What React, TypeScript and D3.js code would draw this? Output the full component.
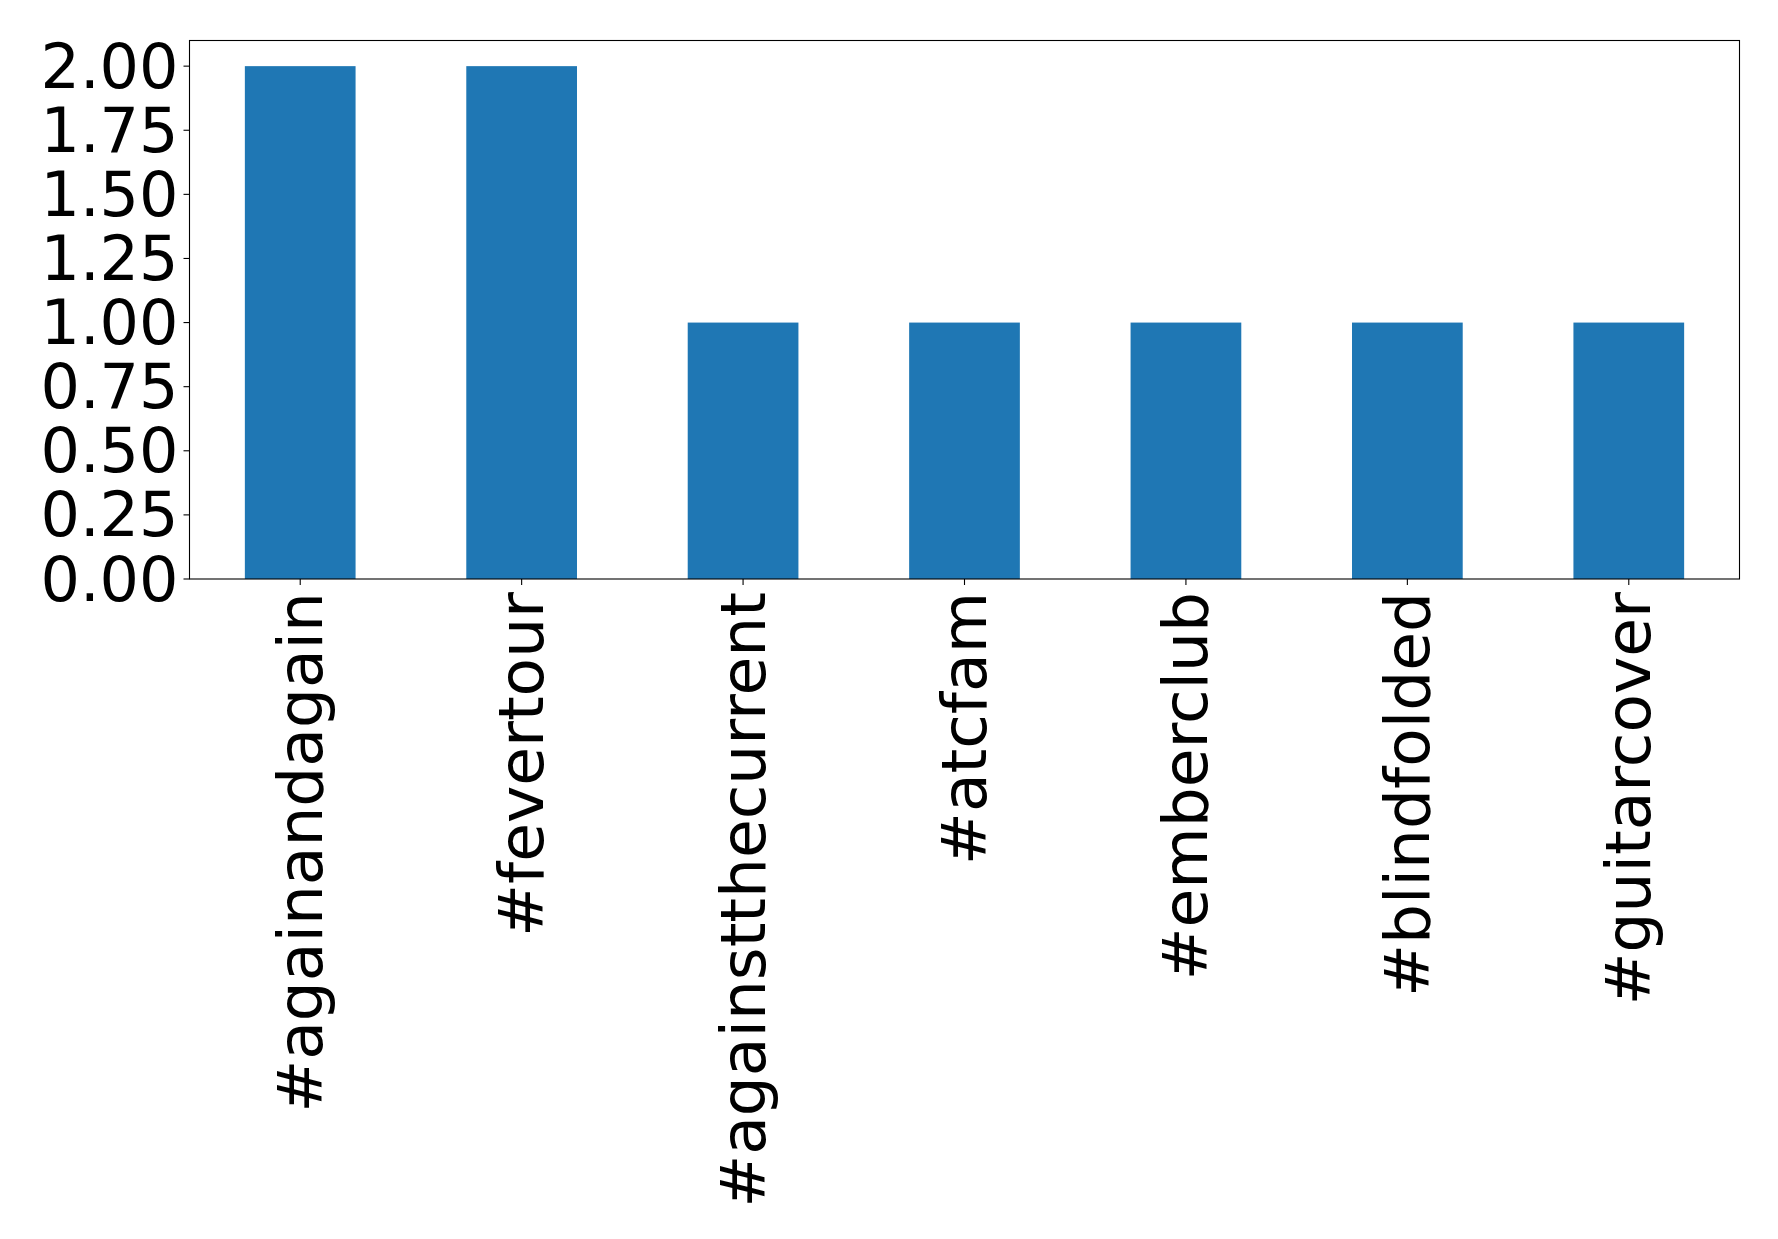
import React from "react";
import * as d3 from "d3";

const categories: string[] = [
  "#againandagain",
  "#fevertour",
  "#againstthecurrent",
  "#atcfam",
  "#emberclub",
  "#blindfolded",
  "#guitarcover",
];
const values: number[] = [2, 2, 1, 1, 1, 1, 1];
const yTicks: number[] = [0, 0.25, 0.5, 0.75, 1.0, 1.25, 1.5, 1.75, 2.0];

const W = 1778;
const H = 1239;
const left = 189.5;
const right = 1739.5;
const top = 40.5;
const bottom = 579;
const FONT = "'DejaVu Sans', sans-serif";
const FS_Y = 62;
const FS_X = 63;

export default function App() {
  const x = d3
    .scaleBand<string>()
    .domain(categories)
    .range([left, right])
    .paddingInner(0.5)
    .paddingOuter(0.25);
  const y = d3.scaleLinear().domain([0, 2.1]).range([bottom, top]);
  const fmt = d3.format(".2f");

  return (
    <div style={{ position: "absolute", left: 0, top: 0, width: W, height: H, background: "#fff" }}>
      <svg width={W} height={H} style={{ display: "block" }}>
        <rect x={0} y={0} width={W} height={H} fill="#fff" />
        {categories.map((c, i) => (
          <rect
            key={c}
            x={x(c)!}
            y={y(values[i])}
            width={x.bandwidth()}
            height={y(0) - y(values[i])}
            fill="#1f77b4"
          />
        ))}
        <rect
          x={left}
          y={top}
          width={right - left}
          height={bottom - top}
          fill="none"
          stroke="#000"
          strokeWidth={1.1}
        />
        {yTicks.map((t) => (
          <g key={t}>
            <line x1={left - 6} x2={left} y1={y(t)} y2={y(t)} stroke="#000" strokeWidth={1.1} />
            <text
              x={left - 11}
              y={y(t)}
              textAnchor="end"
              dominantBaseline="central"
              fontFamily={FONT}
              fontSize={FS_Y}
              fill="#000"
            >
              {fmt(t)}
            </text>
          </g>
        ))}
        {categories.map((c) => {
          const cx = x(c)! + x.bandwidth() / 2;
          return (
            <g key={c}>
              <line x1={cx} x2={cx} y1={bottom} y2={bottom + 6} stroke="#000" strokeWidth={1.1} />
              <text
                transform={`translate(${cx},${bottom + 13}) rotate(-90)`}
                textAnchor="end"
                dominantBaseline="central"
                fontFamily={FONT}
                fontSize={FS_X}
                fill="#000"
              >
                {c}
              </text>
            </g>
          );
        })}
      </svg>
    </div>
  );
}
